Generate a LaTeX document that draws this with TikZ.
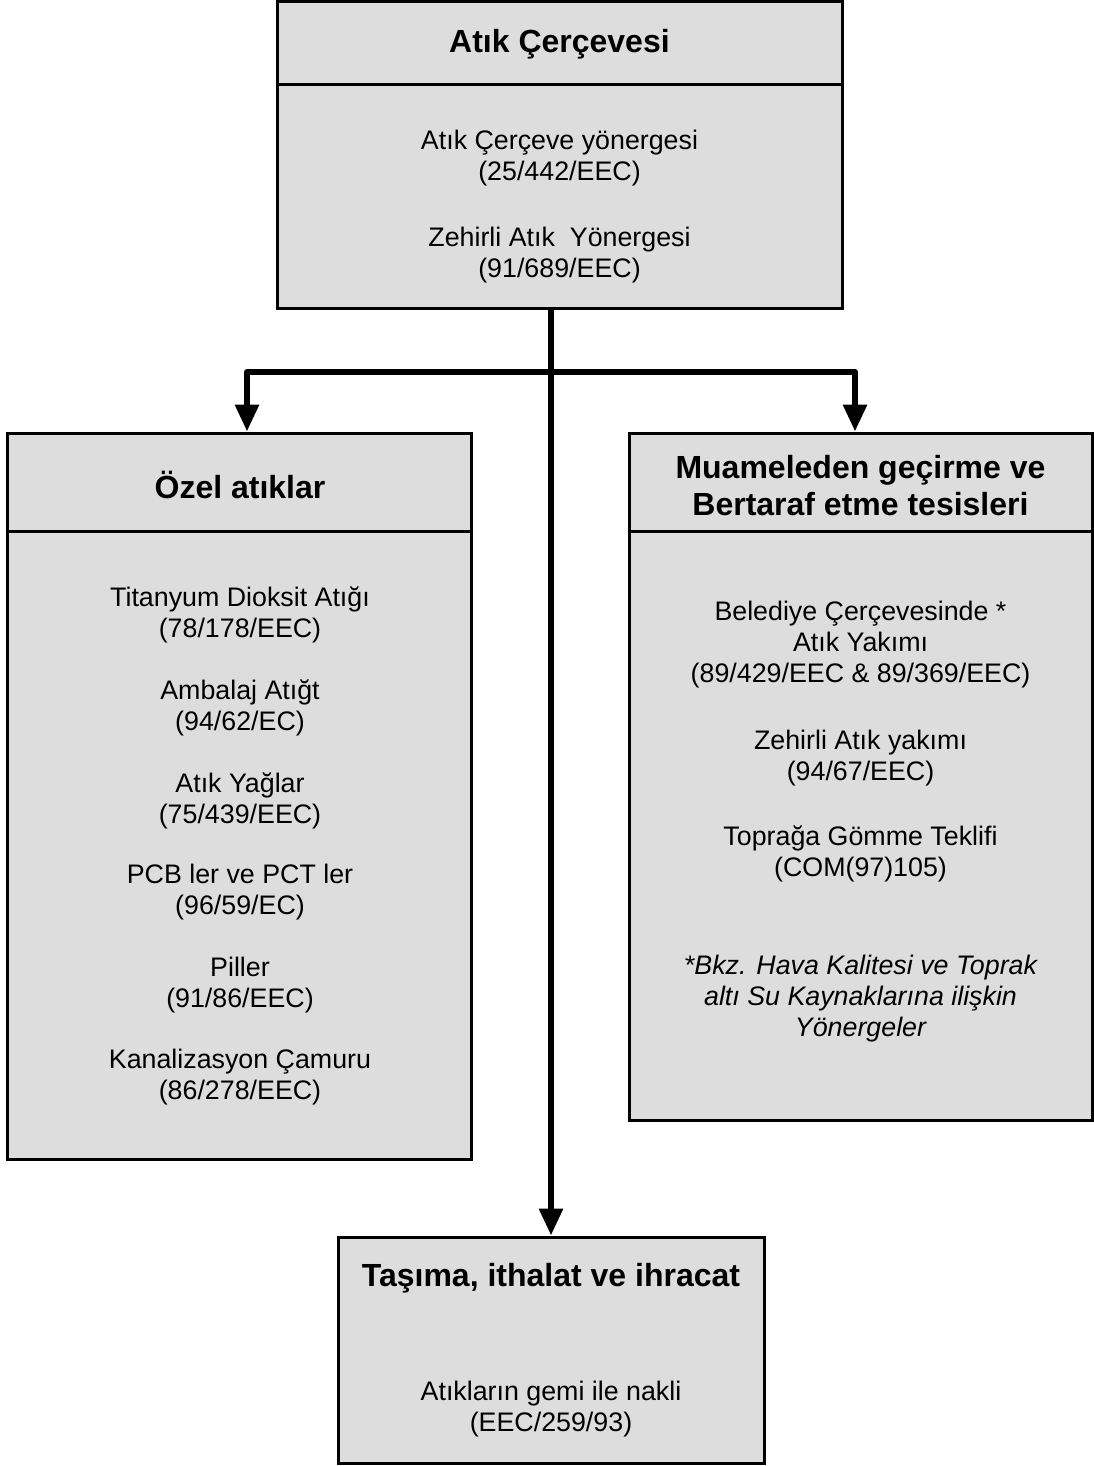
\documentclass[tikz,border=0pt]{standalone}
\usepackage{fontspec}
\setmainfont{Liberation Sans}
\usetikzlibrary{arrows.meta}
\definecolor{gri}{HTML}{DDDDDD}

\begin{document}
\begin{tikzpicture}[x=1pt,y=-1pt,
    kutu/.style={draw,line width=3pt,fill=gri,inner sep=0},
    baslik/.style={font=\bfseries\fontsize{32}{37}\selectfont,align=center,inner sep=0},
    metin/.style={font=\fontsize{26.8}{31}\selectfont,align=center,inner sep=0},
    egik/.style={metin,font=\itshape\fontsize{26.8}{31}\selectfont},
    ok/.style={line width=6pt,line join=round,-{Triangle[width=23pt,length=27pt]}}]
  \useasboundingbox (0,0) rectangle (1094,1466);
  % kutular
  \node[kutu,minimum width=565pt,minimum height=306pt] (ust) at (559.5,155) {};
  \node[kutu,minimum width=464pt,minimum height=726pt] (ozel) at (239,796) {};
  \node[kutu,minimum width=463pt,minimum height=687pt] (tesis) at (860.5,776.5) {};
  \node[kutu,minimum width=426pt,minimum height=226pt] (tasima) at (551,1350) {};
  \draw[line width=3pt]
    ([yshift=-84pt]ust.north west) -- ([yshift=-84pt]ust.north east)
    ([yshift=-100pt]ozel.north west) -- ([yshift=-100pt]ozel.north east)
    ([yshift=-100pt]tesis.north west) -- ([yshift=-100pt]tesis.north east);
  % oklar
  \coordinate (kol) at (551,372);
  \draw[ok] (tasima.north |- ust.south) -- (tasima.north);
  \draw[ok] (kol) -| ([xshift=8pt]ozel.north);
  \draw[ok] (kol) -| ([xshift=-5.5pt]tesis.north);
  % ust
  \node[baslik] (b1) at (559.5,44) {Atık Çerçevesi};
  \node[metin] (u1) at (559.5,158) {Atık Çerçeve yönergesi\\(25/442/EEC)};
  \node[metin] (u2) at (559.5,255) {Zehirli Atık\ \ Yönergesi\\(91/689/EEC)};
  % sol
  \node[baslik] (b2) at (240,485) {Özel atıklar};
  \node[metin] (s1) at (240,614.5) {Titanyum Dioksit Atığı\\(78/178/EEC)};
  \node[metin] (s2) at (240,707.5) {Ambalaj Atığt\\(94/62/EC)};
  \node[metin] (s3) at (240,800.5) {Atık Yağlar\\(75/439/EEC)};
  \node[metin] (s4) at (240,892.5) {PCB ler ve PCT ler\\(96/59/EC)};
  \node[metin] (s5) at (240,985) {Piller\\(91/86/EEC)};
  \node[metin] (s6) at (240,1077.5) {Kanalizasyon Çamuru\\(86/278/EEC)};
  % sag
  \node[baslik] (b3) at (860.5,485.5) {Muameleden geçirme ve\\Bertaraf etme tesisleri};
  \node[metin] (r1) at (860.5,645) {Belediye Çerçevesinde *\\Atık Yakımı\\(89/429/EEC \& 89/369/EEC)};
  \node[metin] (r2) at (860.5,758.5) {Zehirli Atık yakımı\\(94/67/EEC)};
  \node[metin] (r3) at (860.5,853.5) {Toprağa Gömme Teklifi\\(COM(97)105)};
  \node[egik] (r4) at (860.5,999) {*Bkz. Hava Kalitesi ve Toprak\\altı Su Kaynaklarına ilişkin\\Yönergeler};
  % alt
  \node[baslik] (b4) at (551,1278) {Taşıma, ithalat ve ihracat};
  \node[metin] (a1) at (551,1409.5) {Atıkların gemi ile nakli\\(EEC/259/93)};
\end{tikzpicture}
\end{document}
